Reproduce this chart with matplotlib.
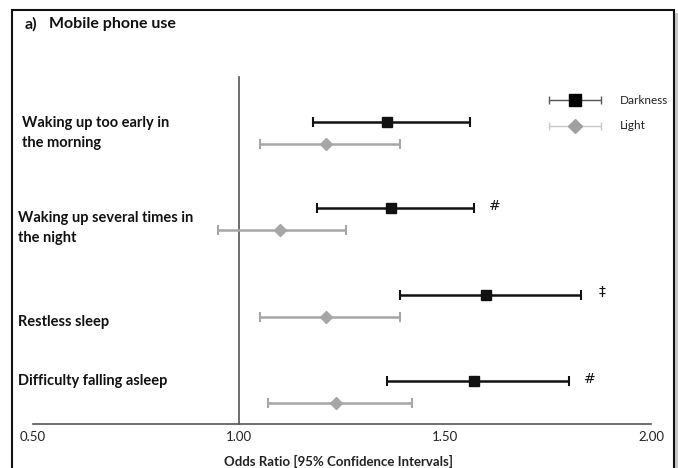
import matplotlib
matplotlib.use("Agg")
import matplotlib.pyplot as plt
from matplotlib.patches import Rectangle

plt.rcParams['font.family'] = ['Lato', 'DejaVu Sans']

# Outcomes, top to bottom
outcomes = ["Waking up too early in\nthe morning",
            "Waking up several times in\nthe night",
            "Restless sleep",
            "Difficulty falling asleep"]

# Odds ratios with 95% confidence intervals
dark_or = [1.36, 1.37, 1.60, 1.57]
dark_lo = [1.18, 1.19, 1.39, 1.36]
dark_hi = [1.56, 1.57, 1.83, 1.80]

light_or = [1.21, 1.10, 1.21, 1.235]
light_lo = [1.05, 0.95, 1.05, 1.07]
light_hi = [1.39, 1.26, 1.39, 1.42]

# significance markers next to the darkness estimates
sig_marks = ["", "#", "\u2021", "#"]

xticks = [0.50, 1.00, 1.50, 2.00]
xtick_labels = ["0.50", "1.00", "1.50", "2.00"]

W, H = 678, 468
fig = plt.figure(figsize=(W / 100, H / 100), dpi=100)
ax = fig.add_axes([0, 0, 1, 1])

# pixel -> data mapping: 0.5 at x=33, 2.0 at x=651
px_per_unit = 412.0
x_at_1 = 239.0
ax.set_xlim(1 - x_at_1 / px_per_unit, 1 + (W - x_at_1) / px_per_unit)
row_px = 86.4
row0_px = 133.0
ax.set_ylim((H - row0_px) / row_px, -row0_px / row_px)
ax.axis("off")

off = 0.128
dark_y = [i - off for i in range(len(outcomes))]
light_y = [i + off for i in range(len(outcomes))]

light_col = "#a6a6a6"
dark_col = "#111111"

ax.errorbar(light_or, light_y,
            xerr=[[m - l for m, l in zip(light_or, light_lo)],
                  [h - m for m, h in zip(light_or, light_hi)]],
            fmt="D", color=light_col, ecolor=light_col, markersize=6.5,
            elinewidth=1.8, capsize=3.5, capthick=1.5, zorder=3)
ax.errorbar(dark_or, dark_y,
            xerr=[[m - l for m, l in zip(dark_or, dark_lo)],
                  [h - m for m, h in zip(dark_or, dark_hi)]],
            fmt="s", color=dark_col, ecolor=dark_col, markersize=7.5,
            elinewidth=1.8, capsize=3.5, capthick=1.5, zorder=4)

for y, hi, m in zip(dark_y, dark_hi, sig_marks):
    if m:
        ax.text(hi + 0.051, y - 0.03, m, fontsize=10, ha="center", va="center",
                color="#111111", family=['DejaVu Sans'])

# reference line at OR = 1 and horizontal axis line
y_top = (77 - row0_px) / row_px
y_axis = (424 - row0_px) / row_px
ax.plot([1.0, 1.0], [y_top, y_axis], color="#555555", lw=1.2, zorder=1)
ax.plot([0.5, 2.0], [y_axis, y_axis], color="#555555", lw=1.2, zorder=1)

for v, lab in zip(xticks, xtick_labels):
    ax.text(v, (437 - row0_px) / row_px, lab, ha="center", va="center",
            fontsize=9.5, color="#222222")

fig.text(338 / W, 1 - 461 / H, "Odds Ratio [95% Confidence Intervals]",
         ha="center", va="center", fontsize=9.5, fontweight="bold", color="#222222")

# outcome labels
label_x = [22, 18, 18, 18]
label_y = [133, 228, 322, 381]
for lab, lx, ly in zip(outcomes, label_x, label_y):
    fig.text(lx / W, 1 - ly / H, lab, ha="left", va="center", fontsize=10.5,
             fontweight="bold", color="#111111", linespacing=1.55)

# panel title
fig.text(25 / W, 1 - 24 / H, "a)", ha="left", va="center",
         fontsize=11.5, fontweight="bold", color="#111111")
fig.text(49 / W, 1 - 24 / H, "Mobile phone use", ha="left", va="center",
         fontsize=11.5, fontweight="bold", color="#111111")

# legend
def legend_entry(ypx, color, line_color, marker, ms, text):
    yy = (ypx - row0_px) / row_px
    x0 = (549 - x_at_1) / px_per_unit + 1
    xm = (575 - x_at_1) / px_per_unit + 1
    x1 = (601 - x_at_1) / px_per_unit + 1
    ax.errorbar([xm], [yy], xerr=[[xm - x0], [x1 - xm]], fmt=marker, color=color,
                ecolor=line_color, markersize=ms, elinewidth=1.0, capsize=3,
                capthick=1.0, zorder=5)
    fig.text(620 / W, 1 - ypx / H, text, ha="left", va="center", fontsize=8.5,
             color="#222222")

legend_entry(100, "#000000", "#555555", "s", 8.5, "Darkness")
legend_entry(126, "#a0a0a0", "#c8c8c8", "D", 7.5, "Light")

# frame around the panel, with a soft shadow on the right edge
fig.patches.append(Rectangle((674 / W, -0.05), 4 / W, 1 + 0.05 - 13 / H,
                             transform=fig.transFigure, facecolor="#c8c8c8",
                             edgecolor="none"))
fig.patches.append(Rectangle((12 / W, -0.05), (674 - 12) / W, 1 + 0.05 - 10 / H,
                             transform=fig.transFigure, fill=False,
                             edgecolor="#111111", lw=1.5))

fig.savefig("out.png", dpi=100)
